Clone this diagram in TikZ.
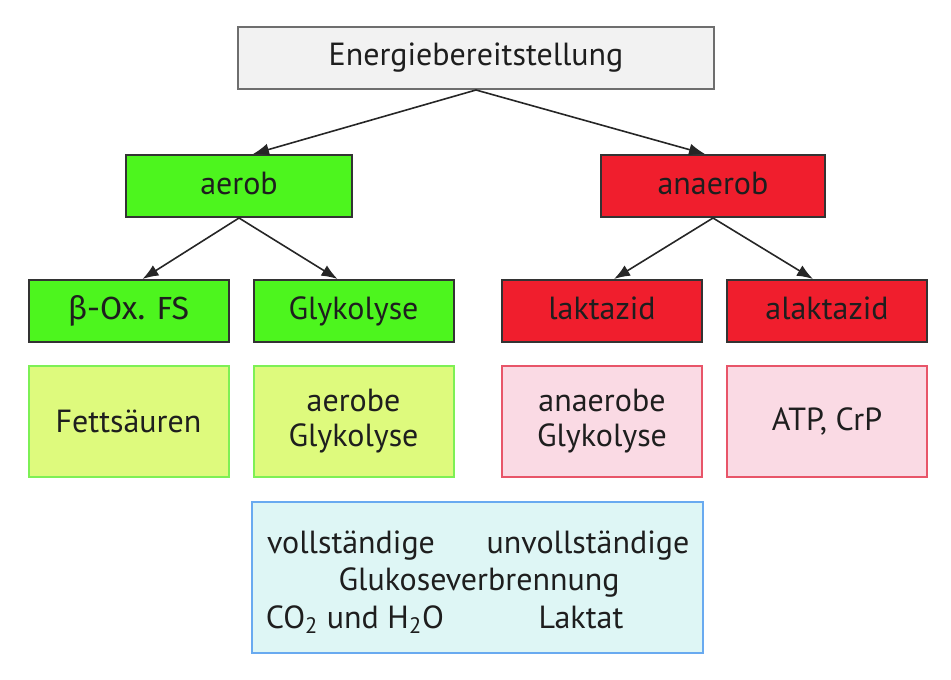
\documentclass[tikz,border=0pt]{standalone}
\usepackage{fontspec}
\setmainfont{PT Sans}
\newfontfamily\betafont{Fira Sans}
\usetikzlibrary{calc,arrows.meta}
\tikzset{>={Latex[length=8pt,width=6pt]}}
\definecolor{topfill}{RGB}{242,242,242}
\definecolor{topline}{RGB}{110,110,110}
\definecolor{aerobgreen}{RGB}{77,245,30}
\definecolor{anaerobred}{RGB}{240,30,45}
\definecolor{lightgreen}{RGB}{222,250,125}
\definecolor{lightgreenline}{RGB}{125,240,85}
\definecolor{lightred}{RGB}{250,218,228}
\definecolor{lightredline}{RGB}{232,85,105}
\definecolor{lightcyan}{RGB}{222,246,245}
\definecolor{cyanline}{RGB}{105,170,240}
\definecolor{txt}{RGB}{30,30,30}
\tikzset{
  label text/.style = {text=txt, inner sep=0pt,
    font=\fontsize{16}{17.5}\selectfont, align=center},
  box/.style = {label text, draw, line width=1pt},
  headbox/.style = {box, fill=topfill, draw=topline, minimum width=238pt, minimum height=31pt},
  greenbox/.style = {box, fill=aerobgreen, draw=black!80, minimum height=31pt,
    text height=11.5pt, text depth=3.5pt},
  redbox/.style = {greenbox, fill=anaerobred},
  greeninfo/.style = {box, fill=lightgreen, draw=lightgreenline, minimum width=100pt, minimum height=55.5pt},
  redinfo/.style = {box, fill=lightred, draw=lightredline, minimum width=100pt, minimum height=55.5pt},
  link/.style = {->, line width=0.8pt, black!85}
}
\newcommand{\bx}{\betafont β}

\begin{document}
\begin{tikzpicture}[x=0.5pt, y=-0.5pt]
  \useasboundingbox (0,0) rectangle (951,679);
  % top
  \node[headbox] (energie) at (476,58) {Energiebereitstellung};
  \node[greenbox, minimum width=113pt] (aerob) at (239,186) {aerob};
  \node[redbox, minimum width=112pt] (anaerob) at (713,186) {anaerob};
  % second row
  \node[greenbox, minimum width=100pt] (betaox) at (128.5,311) {\bx-Ox. FS};
  \node[greenbox, minimum width=100pt] (glyk) at (353.5,311) {Glykolyse};
  \node[redbox, minimum width=100pt] (lakt) at (602,311) {laktazid};
  \node[redbox, minimum width=100pt] (alakt) at (827,311) {alaktazid};
  % third row
  \node[greeninfo] (fett) at (128.5,421.5) {Fettsäuren};
  \node[greeninfo] (aeglyk) at (353.5,421.5) {aerobe\\Glykolyse};
  \node[redinfo] (anglyk) at (602,421.5) {anaerobe\\Glykolyse};
  \node[redinfo] (atp) at (827,421.5) {ATP, CrP};
  % glucose box
  \node[box, fill=lightcyan, draw=cyanline, minimum width=225.5pt, minimum height=75.5pt] (gluk) at (477.5,577.5) {};
  \node[label text, anchor=base] (voll) at (351,553) {vollständige};
  \node[label text, anchor=base] (unvoll) at (588,553) {unvollständige};
  \node[label text, anchor=base] (verbr) at (479,590) {Glukoseverbrennung};
  \node[label text, anchor=base] (co2) at (355,628) {CO\textsubscript{2} und H\textsubscript{2}O};
  \node[label text, anchor=base] (laktat) at (581,628) {Laktat};
  % arrows
  \draw[link] (energie.south) -- ($(aerob.north)+(14,0)$);
  \draw[link] (energie.south) -- ($(anaerob.north)+(-8,0)$);
  \draw[link] (aerob.south) -- ($(betaox.north)+(14,0)$);
  \draw[link] (aerob.south) -- ($(glyk.north)+(-16,0)$);
  \draw[link] (anaerob.south) -- ($(lakt.north)+(12,0)$);
  \draw[link] (anaerob.south) -- ($(alakt.north)+(-14,0)$);
\end{tikzpicture}
\end{document}
